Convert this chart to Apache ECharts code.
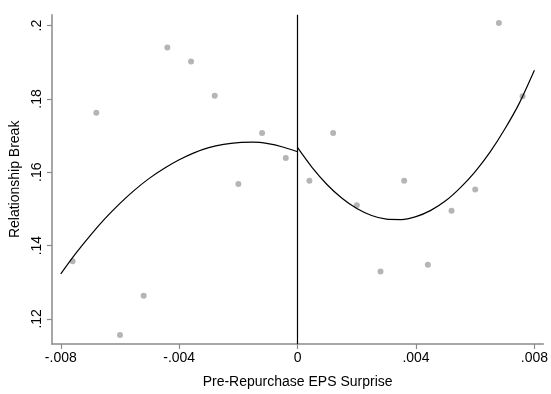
<!DOCTYPE html>
<html>
<head>
<meta charset="utf-8">
<script src="https://cdn.jsdelivr.net/npm/echarts@6/dist/echarts.min.js"></script>
<style>
html,body{margin:0;padding:0;background:#fff;}
#chart{width:551px;height:394px;}
</style>
</head>
<body>
<div id="chart"></div>
<script>
// Scatter bins
const binX = [-0.0076,-0.0068,-0.0060,-0.0052,-0.0044,-0.0036,-0.0028,-0.0020,-0.0012,-0.0004,
              0.0004,0.0012,0.0020,0.0028,0.0036,0.0044,0.0052,0.0060,0.0068,0.0076];
const binY = [0.1357,0.1762,0.1156,0.1263,0.1940,0.1902,0.1809,0.1568,0.1707,0.1639,
              0.1577,0.1707,0.1510,0.1329,0.1577,0.1348,0.1495,0.1553,0.2007,0.1807];
// Fitted curve, left of cutoff
const leftFitX = [-0.008,-0.0075,-0.007,-0.0065,-0.006,-0.0055,-0.005,-0.0045,-0.004,
                  -0.0035,-0.003,-0.0025,-0.002,-0.0015,-0.001,-0.0005,0];
const leftFitY = [0.1323,0.1378,0.1428,0.1474,0.1515,0.1552,0.1584,0.1611,0.1634,
                  0.1653,0.1667,0.1676,0.1681,0.1682,0.1678,0.1669,0.1656];
// Fitted curve, right of cutoff
const rightFitX = [0,0.0005,0.001,0.0015,0.002,0.0025,0.003,0.0035,0.004,
                   0.0045,0.005,0.0055,0.006,0.0065,0.007,0.0075,0.008];
const rightFitY = [0.1667,0.1612,0.1566,0.1529,0.1501,0.1482,0.1472,0.1471,0.1479,
                   0.1496,0.1522,0.1558,0.1602,0.1655,0.1718,0.1790,0.1878];
// Ticks
const xTicks = [-0.008,-0.004,0,0.004,0.008];
const yTicks = [0.12,0.14,0.16,0.18,0.2];
const cutoff = 0;

function fmt(v){
  const r = Math.round(v*1000000)/1000000;
  if (r === 0) return '0';
  let s = String(r);
  return s.replace(/^(-?)0\./, '$1.');
}
const zip = (a,b) => a.map((v,i)=>[v,b[i]]);

const chart = echarts.init(document.getElementById('chart'), null, {renderer:'canvas'});
const axisColor = '#8a8a8a';
const font = 'Liberation Sans, Arial, sans-serif';
chart.setOption({
  animation:false,
  backgroundColor:'#ffffff',
  grid:{left:49.3, right:7, top:14.7, bottom:38.7, containLabel:false},
  xAxis:{
    type:'value', min:-0.0083, max:0.0083,
    name:'Pre-Repurchase EPS Surprise', nameLocation:'middle', nameGap:31,
    nameTextStyle:{fontFamily:font, fontSize:14, color:'#000'},
    axisLine:{show:true, onZero:false, lineStyle:{color:axisColor, width:1.5}},
    axisTick:{show:true, length:5, customValues:xTicks, lineStyle:{color:axisColor, width:1.2}},
    axisLabel:{customValues:xTicks, formatter:fmt, fontFamily:font, fontSize:14, color:'#000', margin:7},
    splitLine:{show:false}
  },
  yAxis:{
    type:'value', min:0.11315, max:0.20298,
    name:'Relationship Break', nameLocation:'middle', nameGap:25, nameRotate:90,
    nameTextStyle:{fontFamily:font, fontSize:14, color:'#000'},
    axisLine:{show:true, onZero:false, lineStyle:{color:axisColor, width:1.5}},
    axisTick:{show:true, length:5, customValues:yTicks, lineStyle:{color:axisColor, width:1.2}},
    axisLabel:{customValues:yTicks, formatter:fmt, rotate:90, fontFamily:font, fontSize:14, color:'#000', margin:8},
    splitLine:{show:false}
  },
  series:[
    {type:'scatter', data:zip(binX,binY), symbol:'circle', symbolSize:6,
     itemStyle:{color:'#a3a3a3'}, z:2},
    {type:'line', data:zip(leftFitX,leftFitY), smooth:0.25, symbol:'none',
     lineStyle:{color:'#000', width:1.2}, z:3},
    {type:'line', data:zip(rightFitX,rightFitY), smooth:0.25, symbol:'none',
     lineStyle:{color:'#000', width:1.2}, z:3,
     markLine:{silent:true, symbol:'none', label:{show:false},
       lineStyle:{color:'#000', width:1.2, type:'solid'},
       data:[{xAxis:cutoff}]}}
  ]
});
</script>
</body>
</html>
